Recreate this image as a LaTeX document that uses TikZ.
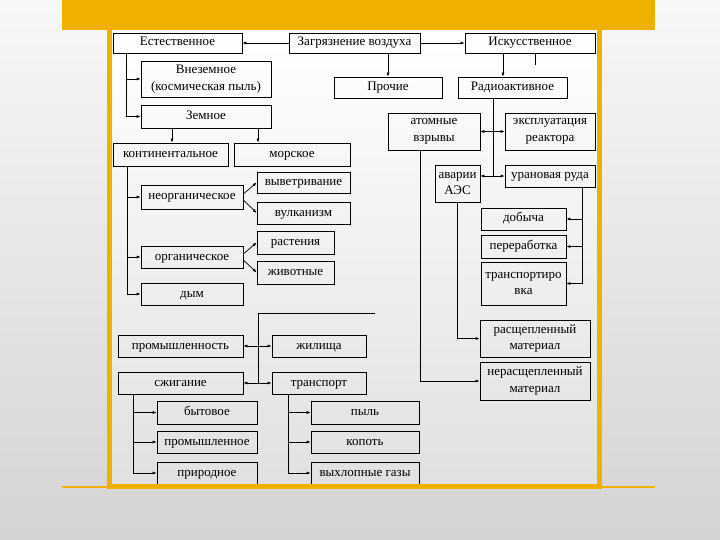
\documentclass[tikz,border=0pt]{standalone}
\usepackage{fontspec}
\setmainfont{Liberation Serif}
\usetikzlibrary{arrows.meta,positioning}
\definecolor{barorange}{RGB}{240,176,0}
\tikzset{
    box/.style={draw, line width=0.7pt, inner sep=1pt,
        font=\fontsize{13}{16.5}\selectfont, text height=9pt, text depth=3pt},
    twoline/.style={draw, line width=0.7pt, inner sep=1pt, align=center,
        font=\fontsize{13}{16.5}\selectfont},
    boxsize/.style 2 args={minimum width=#1pt, minimum height=#2pt}
}

\begin{document}
\begin{tikzpicture}[x=1pt, y=-1pt, line width=0.7pt, >={Latex[length=4pt,width=3pt]}]
        \useasboundingbox (0,0) rectangle (720,540);
        \shade[top color=black!3, bottom color=black!17] (0,0) rectangle (720,540);
        \shade[top color=white, bottom color=black!12] (112,30) rectangle (597,484);

        % top row
        \node[box, boxsize={129}{20}] (nat) at (177.5,43) {Естественное};
        \node[box, boxsize={131}{20}] (poll) at (354.5,43) {Загрязнение воздуха};
        \node[box, boxsize={130}{20}] (art) at (530,43) {Искусственное};
        \node[twoline, boxsize={130}{36}] (ext) at (206,79) {Внеземное\\(космическая пыль)};
        \node[box, boxsize={130}{23}] (earth) at (206,116.5) {Земное};
        \node[box, boxsize={108}{21}] (other) at (388,87.5) {Прочие};
        \node[box, boxsize={109}{21}] (radio) at (512.5,87.5) {Радиоактивное};

        % natural
        \node[box, boxsize={115}{23}] (cont) at (170.5,154.5) {континентальное};
        \node[box, boxsize={116}{23}] (sea) at (292,154.5) {морское};
        \node[box, boxsize={102}{24}] (inorg) at (192,197) {неорганическое};
        \node[box, boxsize={93}{21}] (weath) at (303.5,182.5) {выветривание};
        \node[box, boxsize={93}{22}] (volc) at (303.5,213) {вулканизм};
        \node[box, boxsize={102}{22}] (org) at (192,257) {органическое};
        \node[box, boxsize={77}{23}] (plants) at (295.5,242.5) {растения};
        \node[box, boxsize={77}{23}] (anim) at (295.5,272.5) {животные};
        \node[box, boxsize={102}{22}] (smoke) at (192,294) {дым};

        % radioactive
        \node[twoline, boxsize={92}{37}] (blasts) at (434,131.5) {атомные\\взрывы};
        \node[twoline, boxsize={90}{37}] (reactor) at (550,131.5) {эксплуатация\\реактора};
        \node[twoline, boxsize={45}{37}] (npp) at (457.5,183.5) {аварии\\АЭС};
        \node[box, boxsize={90}{22}] (ore) at (550,176) {урановая руда};
        \node[box, boxsize={85}{22}] (mining) at (523.5,219) {добыча};
        \node[box, boxsize={85}{23}] (proc) at (523.5,246.5) {переработка};
        \node[twoline, boxsize={85}{43}] (transp) at (523.5,283.5) {транспортиро\\вка};
        \node[twoline, boxsize={110}{37}] (split) at (535,338.5) {расщепленный\\материал};
        \node[twoline, boxsize={110}{38}] (unsplit) at (535,381) {нерасщепленный\\материал};

        % other
        \node[box, boxsize={125}{22}] (ind) at (180.5,346) {промышленность};
        \node[box, boxsize={94}{22}] (home) at (319,346) {жилища};
        \node[box, boxsize={125}{22}] (burn) at (180.5,383) {сжигание};
        \node[box, boxsize={94}{22}] (trans) at (319,383) {транспорт};
        \node[box, boxsize={100}{23}] (dom) at (207,412.5) {бытовое};
        \node[box, boxsize={100}{22}] (indu) at (207,442) {промышленное};
        \node[box, boxsize={100}{22}] (natur) at (207,473) {природное};
        \node[box, boxsize={108}{23}] (dust) at (365,412.5) {пыль};
        \node[box, boxsize={108}{22}] (soot) at (365,442) {копоть};
        \node[box, boxsize={108}{22}] (exh) at (365,473) {выхлопные газы};

        \coordinate (tnat) at (126,53);
        \coordinate (tcont) at (127,166);
        \coordinate (e1) at (172,128);
        \coordinate (e2) at (258,128);
        \coordinate (a1) at (503,53);
        \coordinate (a2) at (535,65);
        \coordinate (trad) at (493,98);
        \coordinate (tore) at (582,187);
        \coordinate (tbl) at (420,150);
        \coordinate (toth) at (258,313);
        \coordinate (toth2) at (375,313);
        \coordinate (tburn) at (133,394);
        \coordinate (ttrans) at (288,394);

        \draw[->] (poll.west) -- (nat.east);
        \draw[->] (poll.east) -- (art.west);
        \draw[->] (poll.south -| other.north) -- (other.north);
        \draw[->] (a1) -- (a1 |- radio.north);
        \draw (a2) -- (a2 |- art.south);

        \draw[->] (tnat) |- (ext.west);
        \draw[->] (tnat) |- (earth.west);
        \draw[->] (e1) -- (e1 |- cont.north);
        \draw[->] (e2) -- (e2 |- sea.north);
        \foreach \n in {inorg, org, smoke}
            \draw[->] (tcont) |- (\n.west);
        \draw[->] ([yshift=3pt]inorg.east) -- (weath.west);
        \draw[->] ([yshift=-3pt]inorg.east) -- (volc.west);
        \draw[->] ([yshift=3pt]org.east) -- (plants.west);
        \draw[->] ([yshift=-3pt]org.east) -- (anim.west);

        \draw (trad) -- (trad |- ore.west);
        \draw[<->] (blasts.east) -- (reactor.west);
        \draw[<->] (npp.east |- ore.west) -- (ore.west);
        \foreach \n in {mining, proc, transp}
            \draw[->] (tore) |- (\n.east);
        \draw[->] (npp.south) |- (split.west);
        \draw[->] (tbl) |- (unsplit.west);

        \draw (toth2) -- (toth) -- (toth |- burn.east);
        \draw[<->] (ind.east) -- (home.west);
        \draw[<->] (burn.east) -- (trans.west);
        \foreach \n in {dom, indu, natur}
            \draw[->] (tburn) |- (\n.west);
        \foreach \n in {dust, soot, exh}
            \draw[->] (ttrans) |- (\n.west);

        % frame
        \fill[barorange] (62,0) rectangle (655,30);
        \draw[barorange, line width=2pt] (62,487) -- (655,487);
        \draw[barorange, line width=5pt] (109.5,30) -- (109.5,486.5) -- (599.5,486.5) -- (599.5,30);
    \end{tikzpicture}
\end{document}
